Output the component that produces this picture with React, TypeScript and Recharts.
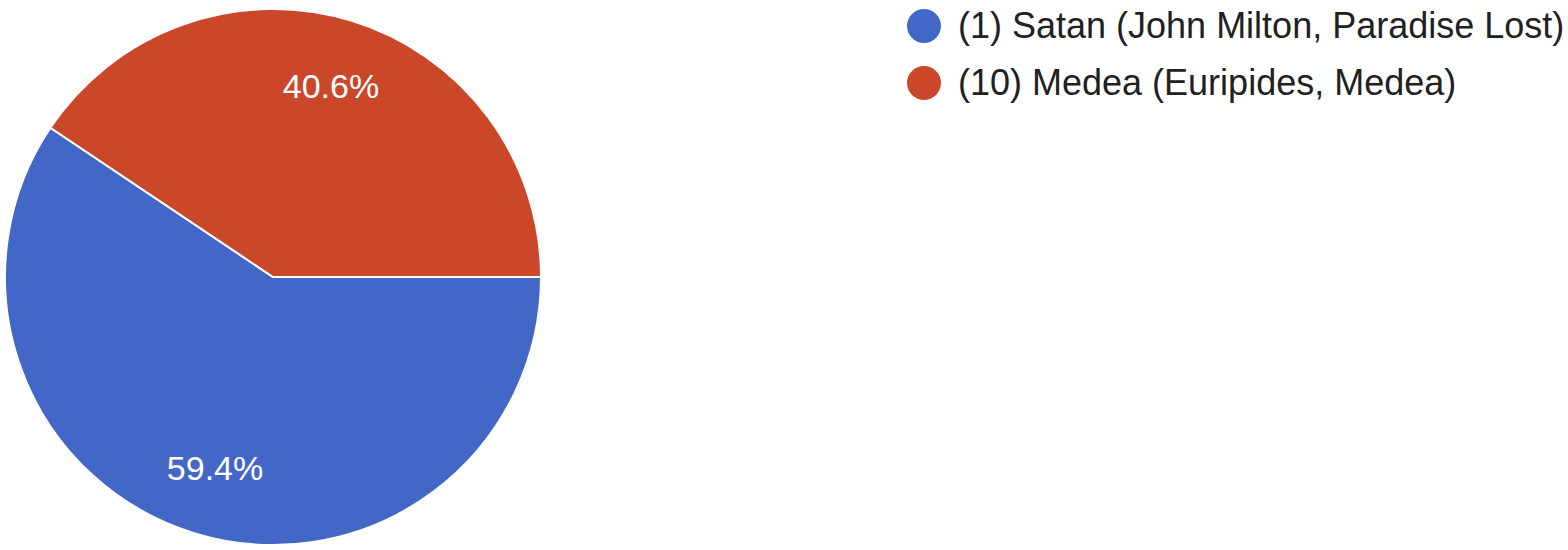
import React from "react";
import { PieChart, Pie, Cell, Legend } from "recharts";

const categories = [
  "(1) Satan (John Milton, Paradise Lost)",
  "(10) Medea (Euripides, Medea)",
];
const values = [59.4, 40.6];
const colors = ["#4267C6", "#CB4729"];

const data = categories.map((name, i) => ({ name, value: values[i] }));

const FONT = "'Liberation Sans', Arial, Helvetica, sans-serif";
const RAD = Math.PI / 180;

const renderLabel = (props: any) => {
  const { cx, cy, midAngle, outerRadius, value } = props;
  const r = outerRadius * 0.743;
  const x = cx + r * Math.cos(-midAngle * RAD);
  const y = cy + r * Math.sin(-midAngle * RAD);
  return (
    <text
      x={x}
      y={y}
      fill="#ffffff"
      textAnchor="middle"
      dominantBaseline="central"
      fontSize={34}
      style={{ fontFamily: FONT, fontSize: 34 }}
    >
      {`${value.toFixed(1)}%`}
    </text>
  );
};

const renderLegend = () => (
  <div style={{ fontFamily: FONT, fontSize: 36, color: "#212121" }}>
    {categories.map((c, i) => (
      <div
        key={c}
        style={{
          display: "flex",
          alignItems: "center",
          height: 57,
          lineHeight: "57px",
          whiteSpace: "nowrap",
        }}
      >
        <svg width={34} height={34} style={{ marginRight: 17, flex: "none" }}>
          <circle cx={17} cy={17} r={17} fill={colors[i]} />
        </svg>
        <span>{c}</span>
      </div>
    ))}
  </div>
);

export default function App() {
  return (
    <div style={{ position: "absolute", left: 0, top: 0, width: 1568, height: 550, background: "#fff" }}>
      <PieChart width={1568} height={550} margin={{ top: 0, right: 0, bottom: 0, left: 0 }}>
        <Pie
          data={data}
          dataKey="value"
          nameKey="name"
          cx={273}
          cy={277}
          outerRadius={268}
          startAngle={0}
          endAngle={-360}
          stroke="#ffffff"
          strokeWidth={2}
          label={renderLabel}
          labelLine={false}
          isAnimationActive={false}
        >
          {data.map((d, i) => (
            <Cell key={d.name} fill={colors[i]} />
          ))}
        </Pie>
        <Legend
          layout="vertical"
          align="right"
          verticalAlign="middle"
          content={renderLegend}
          wrapperStyle={{ position: "absolute", left: 907, top: -3, width: 661, right: "auto", bottom: "auto" }}
        />
      </PieChart>
    </div>
  );
}
